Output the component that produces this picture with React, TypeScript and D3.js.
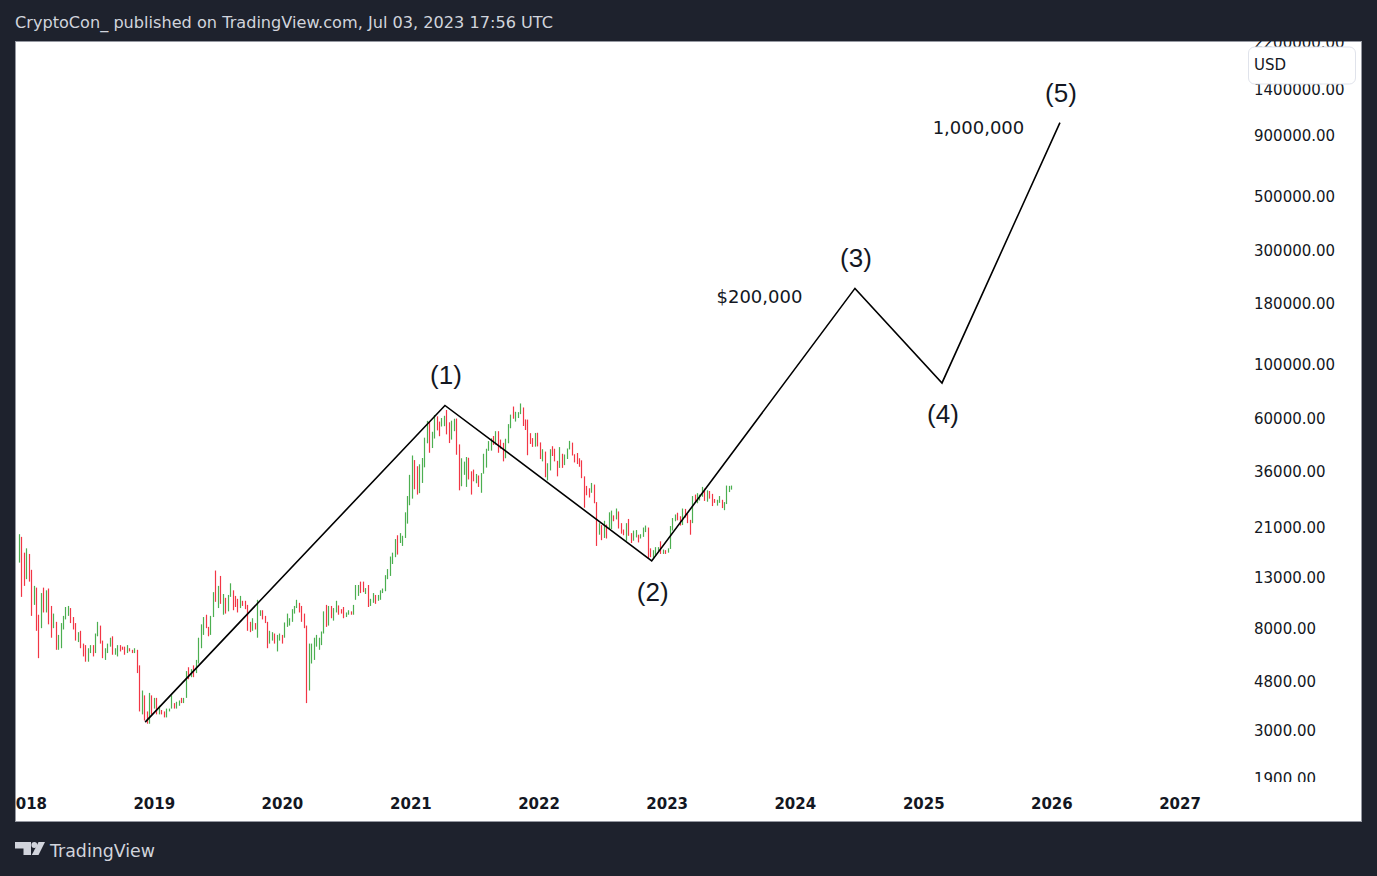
import * as d3 from 'd3';
import React from 'react';

// weekly bars, weeks starting Monday: [high, low, close] in USD thousands
const bars2017 = [
  [19.7, 15.0, 19.1], [19.2, 10.8, 14.0], [16.5, 12.0, 13.8],
];
const bars2018 = [
  [17.2, 12.8, 16.2], [16.3, 12.5, 13.6], [14.0, 9.0, 11.5], [12.0, 10.0, 11.8], [11.8, 7.8, 8.2],
  [9.1, 6.0, 8.1], [11.2, 8.0, 10.4], [11.8, 9.3, 9.6], [11.5, 9.3, 11.5],
  [11.7, 8.3, 9.5], [9.9, 7.3, 8.2], [9.2, 8.0, 8.5], [8.5, 6.5, 6.8],
  [7.5, 6.5, 6.9], [8.4, 6.6, 8.0], [9.0, 7.9, 8.9], [9.8, 8.7, 9.2], [9.9, 9.0, 9.6],
  [9.7, 8.4, 8.7], [8.9, 7.9, 8.2], [8.4, 7.1, 7.4], [7.7, 7.0, 7.7],
  [7.8, 6.6, 6.8], [6.9, 6.1, 6.5], [6.8, 5.8, 6.2], [6.6, 5.8, 6.6],
  [6.8, 6.3, 6.7], [6.8, 6.1, 6.4], [7.6, 6.3, 7.4], [8.5, 7.4, 8.2], [8.2, 6.9, 7.0],
  [7.1, 6.0, 6.3], [6.6, 5.9, 6.4], [6.9, 6.3, 6.7], [7.3, 6.7, 7.3],
  [7.4, 6.2, 6.3], [6.6, 6.2, 6.5], [6.8, 6.1, 6.7], [6.8, 6.4, 6.6],
  [6.7, 6.5, 6.55], [6.7, 6.2, 6.3], [6.8, 6.3, 6.5], [6.6, 6.4, 6.45], [6.5, 6.3, 6.4],
  [6.6, 6.3, 6.4], [6.5, 5.2, 5.5], [5.6, 3.6, 4.0], [4.4, 3.5, 4.1],
  [4.2, 3.3, 3.5], [3.6, 3.2, 3.25], [4.3, 3.2, 4.0], [4.2, 3.5, 3.9],
];
const bars2019 = [
  [4.1, 3.7, 4.0], [4.1, 3.5, 3.5], [3.8, 3.5, 3.55], [3.65, 3.5, 3.52], [3.6, 3.4, 3.4],
  [3.7, 3.4, 3.65], [3.7, 3.6, 3.68], [4.2, 3.7, 3.85], [3.9, 3.7, 3.8],
  [3.95, 3.7, 3.9], [4.0, 3.8, 4.0], [4.1, 3.9, 3.99], [4.1, 3.9, 4.1],
  [5.3, 4.1, 5.1], [5.5, 4.9, 5.05], [5.4, 5.0, 5.3], [5.6, 5.0, 5.2], [5.9, 5.2, 5.8],
  [7.3, 5.7, 7.0], [8.3, 6.6, 8.0], [8.9, 7.5, 8.7], [9.1, 8.0, 8.0],
  [8.1, 7.4, 7.7], [9.0, 7.5, 8.9], [11.3, 8.9, 10.8], [13.9, 10.3, 10.7],
  [12.0, 9.7, 11.5], [13.2, 10.1, 10.2], [11.1, 9.1, 10.6], [10.7, 9.2, 9.5], [11.0, 9.4, 10.8],
  [12.3, 10.8, 11.3], [11.5, 9.5, 10.3], [10.9, 9.8, 10.1], [10.6, 9.3, 9.7],
  [10.9, 9.7, 10.4], [10.4, 9.9, 10.3], [10.4, 9.6, 10.0], [10.0, 7.8, 8.0], [8.5, 7.7, 7.9],
  [8.8, 7.8, 8.3], [8.4, 7.9, 8.0], [10.5, 7.3, 9.2], [9.5, 9.0, 9.2],
  [9.5, 8.7, 8.8], [9.0, 8.4, 8.5], [8.5, 6.6, 7.1], [7.8, 6.9, 7.5],
  [7.7, 7.1, 7.5], [7.6, 6.9, 7.1], [7.5, 6.4, 7.3], [7.6, 7.1, 7.4],
];
const bars2020 = [
  [7.5, 6.9, 7.35], [8.45, 7.3, 8.1], [9.2, 8.1, 8.6], [8.8, 8.2, 8.6], [9.6, 8.5, 9.3],
  [9.9, 9.2, 9.9], [10.5, 9.7, 9.9], [10.2, 9.3, 9.7], [9.9, 8.5, 8.5],
  [9.2, 8.0, 8.0], [8.2, 3.9, 5.4], [6.9, 4.4, 5.85], [6.9, 5.7, 6.25], [7.3, 5.9, 6.8],
  [7.5, 6.7, 6.9], [7.3, 6.5, 7.1], [7.75, 6.8, 7.7], [9.4, 7.6, 8.9],
  [10.0, 8.1, 8.7], [9.9, 8.2, 9.7], [9.9, 8.8, 8.9], [9.7, 8.6, 9.45],
  [10.4, 9.3, 9.7], [9.95, 9.1, 9.35], [9.6, 9.2, 9.3], [9.8, 8.8, 9.1], [9.3, 8.9, 9.2],
  [9.5, 9.1, 9.3], [9.4, 9.1, 9.2], [10.0, 9.1, 9.95], [12.1, 10.5, 11.8],
  [12.1, 10.9, 11.9], [12.5, 11.2, 11.85], [12.5, 11.3, 11.7], [11.75, 11.1, 11.7], [12.1, 9.8, 10.3],
  [10.6, 9.9, 10.3], [11.2, 10.2, 11.1], [11.0, 10.1, 10.8], [11.0, 10.4, 11.05],
  [11.5, 10.5, 11.4], [11.7, 11.2, 11.5], [13.3, 11.4, 13.1], [14.1, 12.8, 13.8],
  [15.9, 13.2, 15.5], [16.5, 14.8, 16.0], [18.8, 15.8, 18.7], [19.5, 16.2, 18.2], [19.9, 18.1, 19.2],
  [19.4, 17.6, 19.2], [24.3, 19.0, 23.8], [28.4, 21.8, 26.5], [34.8, 26.0, 34.0],
];
const bars2021 = [
  [41.9, 27.7, 38.2], [40.1, 30.3, 36.0], [37.8, 28.8, 32.3], [38.5, 29.2, 34.3],
  [40.9, 32.2, 39.2], [49.7, 37.4, 48.6], [58.4, 47.1, 57.5], [58.0, 43.0, 45.2],
  [52.6, 45.0, 51.2], [61.8, 49.3, 59.0], [61.0, 53.3, 57.4], [58.0, 50.4, 55.8], [60.0, 55.3, 57.1],
  [61.3, 55.5, 60.0], [64.8, 51.3, 56.3], [57.6, 47.2, 49.1], [58.5, 48.8, 56.6],
  [59.6, 52.9, 58.2], [59.7, 42.2, 46.4], [46.6, 30.0, 34.7], [40.8, 31.2, 35.7], [39.5, 34.8, 35.8],
  [41.3, 31.0, 39.1], [41.0, 33.3, 35.5], [36.0, 28.8, 34.7], [36.6, 32.7, 34.2],
  [35.1, 32.1, 34.2], [34.6, 31.0, 31.8], [35.4, 29.3, 35.4], [42.6, 35.2, 39.8],
  [44.7, 37.3, 44.4], [48.1, 43.8, 47.1], [49.4, 43.9, 49.3], [50.5, 46.4, 48.8], [52.9, 46.5, 51.8],
  [52.9, 43.0, 48.3], [48.8, 44.7, 47.3], [47.3, 39.6, 42.7], [49.2, 40.8, 48.2],
  [56.6, 47.1, 54.9], [62.0, 54.4, 61.5], [67.0, 59.6, 61.0], [63.7, 58.0, 61.3],
  [63.5, 60.0, 63.3], [69.0, 62.3, 65.5], [66.4, 55.6, 59.7], [59.2, 53.5, 57.2], [59.1, 42.0, 49.4],
  [51.9, 46.8, 48.4], [49.5, 45.5, 46.7], [52.0, 45.6, 50.8], [52.1, 45.7, 46.4],
];
const bars2022 = [
  [47.5, 40.5, 41.9], [44.5, 39.6, 43.0], [43.5, 34.0, 36.3], [38.9, 33.0, 38.5], [44.5, 36.3, 42.4],
  [45.8, 41.7, 42.1], [44.7, 39.6, 39.1], [39.8, 34.3, 37.7], [45.4, 37.2, 38.8],
  [42.6, 37.2, 37.8], [42.3, 38.2, 42.2], [44.8, 40.5, 44.5], [48.2, 44.4, 46.4],
  [47.4, 41.9, 42.2], [42.4, 39.2, 40.4], [42.9, 38.6, 39.4], [40.8, 37.6, 38.5],
  [40.0, 33.7, 34.3], [34.3, 25.4, 31.3], [31.3, 28.6, 29.4], [30.6, 28.0, 29.3], [32.2, 29.3, 29.9],
  [31.7, 26.5, 26.6], [26.8, 17.6, 20.5], [21.9, 19.6, 21.0], [21.5, 18.6, 19.3],
  [22.4, 19.0, 20.8], [21.6, 18.9, 20.7], [24.3, 20.8, 22.6], [24.7, 20.7, 23.3],
  [23.6, 22.3, 23.2], [25.2, 22.7, 24.4], [24.5, 20.8, 21.5], [21.9, 19.8, 20.0], [20.6, 19.5, 19.8],
  [21.9, 18.5, 21.8], [22.8, 19.4, 19.4], [19.9, 18.1, 18.8], [20.4, 18.5, 19.3],
  [20.5, 19.1, 19.4], [19.6, 18.2, 19.2], [19.7, 18.9, 19.6], [21.0, 19.2, 20.6], [21.4, 20.1, 20.9],
  [21.0, 15.6, 16.3], [17.2, 15.8, 16.25], [16.9, 15.5, 16.4], [17.4, 16.0, 17.1],
  [17.4, 16.7, 17.15], [18.4, 16.3, 16.7], [17.0, 16.3, 16.8], [16.9, 16.3, 16.6],
];
const bars2023 = [
  [17.2, 16.5, 17.1], [21.3, 17.1, 21.2], [23.0, 20.4, 22.7], [23.8, 22.3, 23.7], [24.2, 22.5, 23.3],
  [23.4, 21.4, 21.8], [25.2, 21.5, 24.6], [25.1, 23.1, 23.5], [23.9, 21.9, 22.2],
  [22.6, 19.6, 22.1], [28.4, 21.9, 28.0], [28.8, 26.6, 27.9], [29.2, 26.5, 28.2],
  [28.8, 27.2, 28.3], [31.0, 28.2, 30.3], [30.5, 27.1, 27.6], [30.0, 26.9, 29.2],
  [29.8, 27.7, 28.9], [29.0, 25.8, 26.9], [27.6, 26.6, 26.7], [27.4, 25.9, 27.1], [28.4, 26.6, 27.2],
  [27.4, 25.3, 25.9], [26.8, 24.8, 26.3], [31.4, 26.3, 30.5], [31.3, 29.5, 30.6],
  [31.4, 30.2, 31.0],
];
const firstOpen = 15.1;
const firstWeek = '2017-12-11';

// Elliott wave path drawn by the author
const waveDates = ['2018-12-06', '2021-04-08', '2022-11-18', '2024-06-19', '2025-02-22', '2026-01-24'];
const wavePrices = [3250, 67700, 15250, 208000, 84000, 1020000];
const waveLabels = ['', '(1)', '(2)', '(3)', '(4)', '(5)'];
const targetLabels = ['$200,000', '1,000,000'];

const priceTicks = [2200000, 1400000, 900000, 500000, 300000, 180000, 100000, 60000, 36000,
  21000, 13000, 8000, 4800, 3000, 1900];
const yearTicks = [2018, 2019, 2020, 2021, 2022, 2023, 2024, 2025, 2026, 2027];

const header = 'CryptoCon_ published on TradingView.com, Jul 03, 2023 17:56 UTC';

const W = 1377;
const H = 876;
const panel = {left: 15, top: 41, right: 1362, bottom: 822};
const plotBottom = 782;
const scaleLeft = 1245;

const UP = '#4caf50';
const DOWN = '#f23645';
const INK = '#131722';
const FONT = '"DejaVu Sans", Verdana, sans-serif';

const App: React.FC = () => {
  const parse = d3.utcParse('%Y-%m-%d');
  const x = d3.scaleUtc()
    .domain([new Date(Date.UTC(2019, 0, 1)), new Date(Date.UTC(2027, 0, 1))])
    .range([154.3, 1180]);
  const y = d3.scaleLog()
    .domain([1830, 2230000])
    .range([plotBottom, panel.top]);

  const rows = [...bars2017, ...bars2018, ...bars2019, ...bars2020, ...bars2021, ...bars2022, ...bars2023];
  const start = parse(firstWeek) as Date;
  const bars = rows.map((r, i) => {
    const open = i === 0 ? firstOpen : rows[i - 1][2];
    return {
      date: d3.utcDay.offset(start, i * 7),
      high: r[0] * 1000,
      low: r[1] * 1000,
      up: r[2] >= open,
    };
  });

  const wave = waveDates.map((d, i) => ({date: parse(d) as Date, price: wavePrices[i], label: waveLabels[i]}));
  const line = d3.line<{date: Date, price: number}>()
    .x(d => x(d.date))
    .y(d => y(d.price));

  const fmt = d3.format('.2f');
  const p3 = wave[3];
  const p5 = wave[5];

  return (
    <svg width={W} height={H} style={{position: 'absolute', left: 0, top: 0, display: 'block'}}>
      <defs>
        <clipPath id='plot'>
          <rect x={panel.left} y={panel.top} width={scaleLeft - panel.left} height={plotBottom - panel.top}/>
        </clipPath>
        <clipPath id='price'>
          <rect x={scaleLeft} y={panel.top} width={panel.right - scaleLeft} height={plotBottom - panel.top}/>
        </clipPath>
        <clipPath id='time'>
          <rect x={panel.left} y={plotBottom} width={scaleLeft - panel.left} height={panel.bottom - plotBottom}/>
        </clipPath>
      </defs>
      <rect width={W} height={H} fill='#1e222d'/>
      <text x={15} y={28} fill='#d1d4dc' fontFamily={FONT} fontSize={15}
        textLength={538} lengthAdjust='spacingAndGlyphs'>{header}</text>

      <rect x={panel.left + 0.5} y={panel.top + 0.5} width={panel.right - panel.left - 1}
        height={panel.bottom - panel.top - 1} fill='#fff' stroke='#9598a1'/>

      <g clipPath='url(#plot)'>
        {bars.map((b, i) => {
          const bx = Math.round(x(b.date)) + 0.5;
          return (
            <line key={i} x1={bx} x2={bx} y1={y(b.high)} y2={y(b.low)}
              stroke={b.up ? UP : DOWN} strokeWidth={1.2}/>
          );
        })}
        <path d={line(wave) || ''} fill='none' stroke='#000' strokeWidth={1.6} strokeLinejoin='miter'/>
        {wave.filter(w => w.label).map((w, i) => {
          const above = i % 2 === 0;
          return (
            <text key={w.label} x={x(w.date) + 1} y={y(w.price) + (above ? -21 : 40.5)}
              textAnchor='middle' fontFamily='"Liberation Sans", Arial, sans-serif' fontSize={26}
              fill={INK}>{w.label}</text>
          );
        })}
        <text x={x(p3.date) - 95.5} y={y(p3.price) + 15} textAnchor='middle'
          fontFamily={FONT} fontSize={18} fill={INK}>{targetLabels[0]}</text>
        <text x={x(p5.date) - 81.5} y={y(p5.price) + 11} textAnchor='middle'
          fontFamily={FONT} fontSize={18} fill={INK}>{targetLabels[1]}</text>
      </g>

      <g clipPath='url(#price)'>
        {priceTicks.map(t => (
          <text key={t} x={1254} y={y(t) + 5.5} fontFamily={FONT} fontSize={15} fill={INK}>{fmt(t)}</text>
        ))}
      </g>
      <rect x={1248.5} y={47} width={107} height={37} rx={6} fill='#fff' stroke='#e0e3eb'/>
      <text x={1254} y={69.5} fontFamily={FONT} fontSize={15} fill={INK}>USD</text>

      <g clipPath='url(#time)'>
        {yearTicks.map(yr => (
          <text key={yr} x={x(new Date(Date.UTC(yr, 0, 1)))} y={809} textAnchor='middle'
            fontFamily={FONT} fontWeight='bold' fontSize={15} fill={INK}>{yr}</text>
        ))}
      </g>

      <g fill='#d1d4dc'>
        <path d='M15 842 H31 V855 H23.5 V848.5 H15 Z'/>
        <circle cx={34.3} cy={845} r={2.9}/>
        <path d='M38.5 842 H45 L38.5 855 H31.8 Z'/>
        <text x={50} y={857} fontFamily={FONT} fontSize={17} textLength={105}
          lengthAdjust='spacingAndGlyphs'>TradingView</text>
      </g>
    </svg>
  );
};

export default App;
